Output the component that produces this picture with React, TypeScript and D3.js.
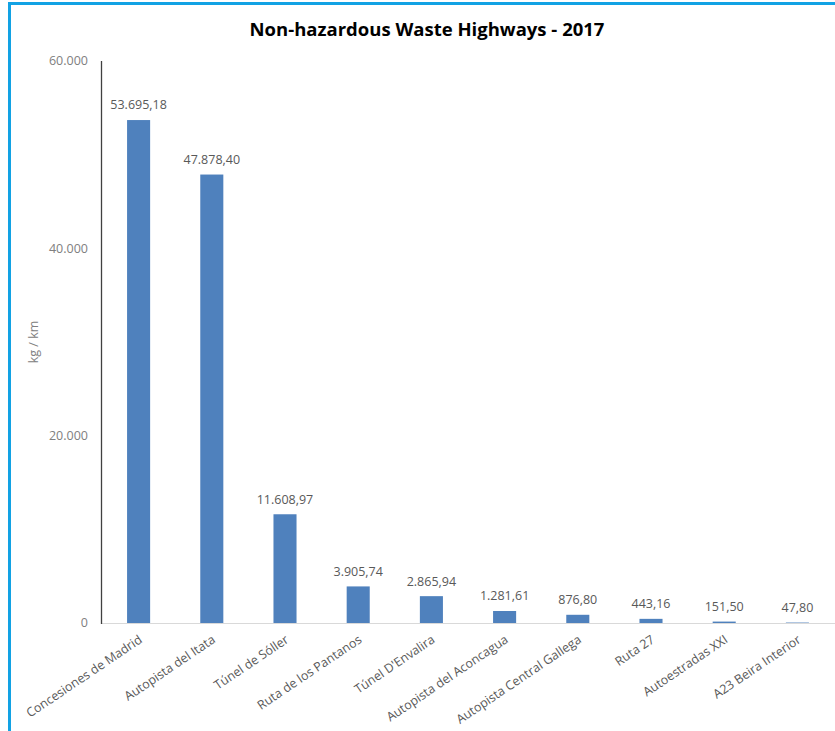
import React from "react";
import * as d3 from "d3";

const categories = [
  "Concesiones de Madrid",
  "Autopista del Itata",
  "Túnel de Sóller",
  "Ruta de los Pantanos",
  "Túnel D'Envalira",
  "Autopista del Aconcagua",
  "Autopista Central Gallega",
  "Ruta 27",
  "Autoestradas XXI",
  "A23 Beira Interior",
];
const values = [53695.18, 47878.4, 11608.97, 3905.74, 2865.94, 1281.61, 876.8, 443.16, 151.5, 47.8];
const yTicks = [0, 20000, 40000, 60000];
const title = "Non-hazardous Waste Highways - 2017";
const yLabel = "kg / km";

const W = 835;
const H = 731;
const FONT = "'Open Sans', 'DejaVu Sans', sans-serif";

const locale = d3.formatLocale({ decimal: ",", thousands: ".", grouping: [3], currency: ["", ""] });
const fmtTick = locale.format(",.0f");
const fmtVal = locale.format(",.2f");

export default function App() {
  const x0 = 102;
  const x1 = 834;
  const yTop = 61;
  const yBase = 623;
  const x = d3.scaleBand<string>().domain(categories).range([x0, x1]).paddingInner(0.685).paddingOuter(0.3425);
  const y = d3.scaleLinear().domain([0, 60000]).range([yBase, yTop]);

  return (
    <svg
      width={W}
      height={H}
      style={{ position: "absolute", left: 0, top: 0, background: "#fff" }}
      fontFamily={FONT}
    >
      <rect x={0} y={0} width={W} height={H} fill="#fff" />
      <rect x={9.5} y={3.5} width={W + 20} height={H + 20} fill="none" stroke="#12a2e4" strokeWidth={3} />
      <text x={427} y={36} textAnchor="middle" fontSize={18.5} fontWeight="bold" fill="#000">
        {title}
      </text>
      {yTicks.map((t) => (
        <text key={t} x={88} y={y(t)} dy="0.35em" textAnchor="end" fontSize={12.5} fill="#808080">
          {fmtTick(t)}
        </text>
      ))}
      <text
        transform={`translate(38, ${(yTop + yBase) / 2}) rotate(-90)`}
        textAnchor="middle"
        fontSize={12.5}
        fill="#808080"
      >
        {yLabel}
      </text>
      <line x1={x0} x2={W} y1={yBase + 0.5} y2={yBase + 0.5} stroke="#d9d9d9" strokeWidth={1.2} />
      {categories.map((c, i) => {
        const bx = x(c)!;
        const bw = x.bandwidth();
        const yv = y(values[i]);
        return (
          <g key={c}>
            <rect x={bx} y={yv} width={bw} height={yBase - yv} fill="#4f81bd" />
            <text x={bx + bw / 2} y={yv - 15} dy="0.35em" textAnchor="middle" fontSize={12.5} fill="#595959">
              {fmtVal(values[i])}
            </text>
            <text
              transform={`translate(${bx + bw / 2 + 2}, ${yBase + 15}) rotate(-34)`}
              textAnchor="end"
              dy="0.35em"
              fontSize={12.5}
              fill="#595959"
            >
              {c}
            </text>
          </g>
        );
      })}
      <line x1={x0 - 0.5} x2={x0 - 0.5} y1={yTop} y2={yBase + 1} stroke="#404040" strokeWidth={1.3} />
    </svg>
  );
}
